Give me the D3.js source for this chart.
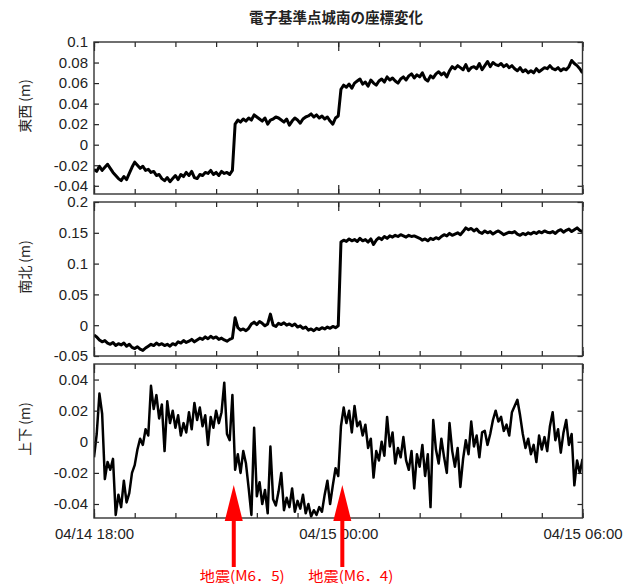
<!DOCTYPE html>
<html>
<head>
<meta charset="utf-8">
<script src="https://cdn.jsdelivr.net/npm/d3@7"></script>
<style>
  body { margin: 0; background: #fff; }
  svg { display: block; }
</style>
</head>
<body>
<svg id="chart" width="641" height="586"></svg>
<script>
'use strict'

// data (4 minute samples from 04/14 18:00)
const title = '電子基準点城南の座標変化'
const startTime = '2016-04-14T18:00:00'
const endTime = '2016-04-15T06:00:00'
const stepMinutes = 4

const eastWest = [
    -0.024, -0.026, -0.021, -0.025, -0.022, -0.019, -0.023,
    -0.027, -0.030, -0.033, -0.035, -0.031, -0.034, -0.028,
    -0.022, -0.017, -0.020, -0.023, -0.021, -0.025, -0.024,
    -0.027, -0.026, -0.030, -0.029, -0.033, -0.035, -0.032,
    -0.036, -0.033, -0.030, -0.034, -0.029, -0.031, -0.027,
    -0.030, -0.026, -0.032, -0.033, -0.029, -0.030, -0.027,
    -0.028, -0.025, -0.029, -0.027, -0.030, -0.026, -0.028, -0.027, -0.029, -0.025,
    0.020, 0.024, 0.022, 0.025, 0.023, 0.026, 0.024,
    0.029, 0.027, 0.025, 0.023, 0.026, 0.020, 0.024,
    0.025, 0.027, 0.026, 0.024, 0.022, 0.025, 0.019,
    0.023, 0.026, 0.024, 0.021, 0.025, 0.027, 0.028,
    0.030, 0.027, 0.029, 0.026, 0.028, 0.025, 0.027, 0.023, 0.020, 0.026, 0.028,
    0.054, 0.058, 0.056, 0.059, 0.055, 0.060, 0.062,
    0.064, 0.059, 0.061, 0.057, 0.063, 0.060, 0.058,
    0.062, 0.064, 0.061, 0.066, 0.063, 0.065, 0.062,
    0.060, 0.064, 0.066, 0.063, 0.067, 0.069, 0.065,
    0.068, 0.066, 0.070, 0.064, 0.062, 0.067, 0.065,
    0.069, 0.071, 0.068, 0.070, 0.066, 0.072, 0.076,
    0.074, 0.077, 0.075, 0.073, 0.078, 0.072, 0.075,
    0.076, 0.074, 0.079, 0.073, 0.077, 0.081, 0.076,
    0.080, 0.078, 0.077, 0.079, 0.076, 0.078, 0.075,
    0.077, 0.074, 0.072, 0.075, 0.071, 0.073, 0.070,
    0.072, 0.070, 0.074, 0.071, 0.073, 0.075, 0.074,
    0.077, 0.074, 0.073, 0.075, 0.072, 0.074, 0.073,
    0.076, 0.082, 0.079, 0.077, 0.074, 0.070
]

const northSouth = [
    -0.016, -0.019, -0.024, -0.027, -0.025, -0.029, -0.031,
    -0.028, -0.033, -0.030, -0.032, -0.029, -0.034, -0.031,
    -0.036, -0.038, -0.035, -0.039, -0.041, -0.037, -0.034,
    -0.031, -0.033, -0.029, -0.032, -0.030, -0.033, -0.031,
    -0.034, -0.030, -0.032, -0.027, -0.029, -0.025, -0.028,
    -0.026, -0.023, -0.027, -0.024, -0.021, -0.023, -0.019,
    -0.022, -0.018, -0.021, -0.019, -0.023, -0.021, -0.024, -0.026, -0.023, -0.021,
    0.012, -0.004, -0.008, -0.006, -0.009, -0.005, 0.002,
    0.005, 0.001, 0.006, 0.003, -0.001, 0.002, 0.018,
    0.000, -0.002, 0.003, 0.001, 0.004, 0.000, 0.002,
    -0.001, 0.002, -0.003, -0.001, -0.005, -0.003, -0.008,
    -0.006, -0.009, -0.005, -0.007, -0.004, -0.006, -0.003, -0.005, -0.002, -0.004, -0.001,
    0.135, 0.138, 0.136, 0.140, 0.137, 0.139, 0.136,
    0.141, 0.137, 0.139, 0.135, 0.140, 0.131, 0.138,
    0.142, 0.139, 0.144, 0.141, 0.145, 0.143, 0.146,
    0.144, 0.147, 0.145, 0.143, 0.146, 0.144, 0.145,
    0.143, 0.141, 0.138, 0.140, 0.137, 0.141, 0.139,
    0.142, 0.140, 0.144, 0.147, 0.145, 0.149, 0.146,
    0.148, 0.150, 0.147, 0.152, 0.158, 0.155, 0.157,
    0.153, 0.156, 0.151, 0.149, 0.153, 0.150, 0.152,
    0.148, 0.151, 0.153, 0.150, 0.147, 0.149, 0.151,
    0.150, 0.152, 0.148, 0.146, 0.149, 0.147, 0.150,
    0.148, 0.151, 0.149, 0.152, 0.150, 0.153, 0.151,
    0.150, 0.152, 0.149, 0.153, 0.155, 0.151, 0.154,
    0.156, 0.152, 0.155, 0.158, 0.154, 0.152
]

const upDown = [
    -0.010, 0.005, 0.031, 0.018, -0.024, -0.013, -0.018, -0.011, -0.047, -0.034,
    -0.042, -0.025, -0.039, -0.033, -0.020, -0.015, -0.005, 0.002, -0.002, 0.008,
    0.004, 0.036, 0.021, 0.030, 0.015, 0.024, -0.006, 0.026, 0.012, 0.020,
    0.009, 0.017, 0.004, 0.012, 0.006, 0.019, 0.008, 0.025, 0.014, 0.022,
    0.010, 0.017, -0.002, 0.016, 0.009, 0.020, 0.012, 0.019, 0.038, 0.005,
    0.001, 0.030, -0.018, -0.008, -0.020, -0.006, -0.014, -0.030, -0.047, 0.009,
    -0.035, -0.026, -0.040, -0.031, -0.046, -0.003, -0.037, -0.041, -0.032, -0.020,
    -0.044, -0.036, -0.042, -0.030, -0.045, -0.038, -0.043, -0.034, -0.046, -0.040,
    -0.048, -0.044, -0.047, -0.042, -0.045, -0.034, -0.025, -0.040, -0.028, -0.017,
    -0.022, 0.010, 0.022, 0.012, 0.020, 0.006, 0.023, 0.010, 0.013, 0.004,
    0.011, -0.004, 0.002, -0.023, -0.006, -0.012, 0.000, -0.009, 0.016, -0.003,
    0.006, -0.014, -0.004, -0.010, 0.003, -0.012, -0.018, -0.006, -0.030, -0.008,
    -0.016, -0.002, -0.022, -0.008, -0.042, 0.014, -0.005, -0.014, 0.002, -0.010,
    -0.020, 0.012, -0.006, -0.016, -0.004, -0.029, -0.011, 0.001, -0.008, 0.013,
    -0.003, 0.004, -0.010, 0.006, 0.007, -0.002, 0.005, 0.014, 0.020, 0.013,
    0.016, 0.007, 0.011, 0.004, 0.019, 0.023, 0.027, 0.017, 0.005, -0.004,
    0.002, -0.008, -0.002, -0.013, 0.004, -0.005, 0.003, -0.006, 0.010, 0.019,
    0.001, 0.008, -0.007, 0.006, 0.014, -0.002, 0.005, -0.028, -0.012, -0.020,
    -0.011
]

const seriesLabels = ['東西 (m)', '南北 (m)', '上下 (m)']
const seriesValues = [eastWest, northSouth, upDown]
const yDomains = [[-0.048, 0.1], [-0.05, 0.2], [-0.049, 0.05]]
const yTicks = [
    [-0.04, -0.02, 0, 0.02, 0.04, 0.06, 0.08, 0.1],
    [-0.05, 0, 0.05, 0.1, 0.15, 0.2],
    [-0.04, -0.02, 0, 0.02, 0.04]
]

const quakeTimes = ['2016-04-14T21:26:00', '2016-04-15T00:06:00']
const quakeLabels = ['地震(M6．5)', '地震(M6．4)']

// layout
const svg = d3.select('#chart')
const left = 94, right = 582.5
const panelTops = [42, 202, 364]
const panelBottoms = [194, 356, 518]
const lineWidths = [3, 3, 2.5]
const fontLatin = '"Liberation Sans", Arial, sans-serif'
const fontCjk = '"Noto Sans CJK JP", "Noto Sans CJK SC", sans-serif'

let t0 = new Date(startTime)
let times = eastWest.map((d, i) => new Date(t0.getTime() + i * stepMinutes * 60000))

let x = d3.scaleTime().domain([t0, new Date(endTime)]).range([left, right])
let hourTicks = x.ticks(d3.timeHour.every(1))
let majorTicks = hourTicks.filter(d => d.getHours() % 6 === 0)
let fmtY = d => String(+d.toFixed(3))

svg.append('text')
    .attr('x', 336)
    .attr('y', 23)
    .attr('text-anchor', 'middle')
    .attr('font-family', fontCjk)
    .attr('font-size', '14.5px')
    .attr('font-weight', 'bold')
    .attr('fill', '#222')
    .text(title)

seriesValues.forEach((values, p) => {
    let top = panelTops[p], bottom = panelBottoms[p]
    let y = d3.scaleLinear().domain(yDomains[p]).range([bottom, top])
    let g = svg.append('g')

    g.append('clipPath').attr('id', `clip${p}`)
        .append('rect').attr('x', left).attr('y', top).attr('width', right - left).attr('height', bottom - top)

    g.append('path')
        .datum(values)
        .attr('clip-path', `url(#clip${p})`)
        .attr('fill', 'none')
        .attr('stroke', '#000')
        .attr('stroke-width', lineWidths[p])
        .attr('stroke-linejoin', 'round')
        .attr('d', d3.line().x((d, i) => x(times[i])).y(d => y(d)))

    // y axes, ticks pointing inward
    let ya = g.append('g')
        .attr('transform', `translate(${left},0)`)
        .call(d3.axisLeft(y).tickValues(yTicks[p]).tickSize(-5).tickPadding(6).tickFormat(fmtY))
    ya.select('.domain').remove()
    ya.attr('font-family', fontLatin).attr('font-size', '15px').attr('fill', '#222')
    ya.selectAll('text').attr('fill', '#222')

    let yr = g.append('g')
        .attr('transform', `translate(${right},0)`)
        .call(d3.axisRight(y).tickValues(yTicks[p]).tickSize(-5).tickFormat(''))
    yr.select('.domain').remove()

    // x ticks on top and bottom
    let xt = g.append('g').attr('transform', `translate(0,${top})`)
    xt.append('g').call(d3.axisTop(x).tickValues(hourTicks).tickSize(-5).tickFormat(''))
    xt.append('g').call(d3.axisTop(x).tickValues(majorTicks).tickSize(-9).tickFormat(''))
    xt.selectAll('.domain').remove()

    let xb = g.append('g').attr('transform', `translate(0,${bottom})`)
    xb.append('g').call(d3.axisBottom(x).tickValues(hourTicks).tickSize(-5).tickFormat(''))
    let xm = xb.append('g').call(d3.axisBottom(x).tickValues(majorTicks).tickSize(-9).tickPadding(10)
        .tickFormat(p === 2 ? d3.timeFormat('%m/%d %H:%M') : ''))
    xm.attr('font-family', fontLatin).attr('font-size', '15px')
    xm.selectAll('text').attr('fill', '#222')
    xb.selectAll('.domain').remove()

    g.selectAll('.tick line').attr('stroke', '#222').attr('stroke-width', 1.2)

    g.append('rect')
        .attr('x', left).attr('y', top)
        .attr('width', right - left).attr('height', bottom - top)
        .attr('fill', 'none')
        .attr('stroke', '#333')
        .attr('stroke-width', 1.4)

    svg.append('text')
        .attr('transform', `translate(25,${(top + bottom) / 2 - 12}) rotate(-90)`)
        .attr('text-anchor', 'middle')
        .attr('dy', '0.35em')
        .attr('font-family', fontCjk)
        .attr('font-size', '14px')
        .attr('fill', '#222')
        .text(seriesLabels[p])
})

// earthquake arrows
quakeTimes.forEach((t, i) => {
    let qx = x(new Date(t))
    let a = svg.append('g').attr('fill', '#ff0000')
    a.append('rect').attr('x', qx - 2).attr('y', 515).attr('width', 4).attr('height', 52)
    a.append('path').attr('d', `M${qx},485L${qx + 9},521L${qx - 9},521Z`)
    a.append('text')
        .attr('x', qx - 34)
        .attr('y', 581)
        .attr('font-family', fontCjk)
        .attr('font-size', '14px')
        .attr('textLength', 85)
        .attr('lengthAdjust', 'spacingAndGlyphs')
        .text(quakeLabels[i])
})
</script>
</body>
</html>
